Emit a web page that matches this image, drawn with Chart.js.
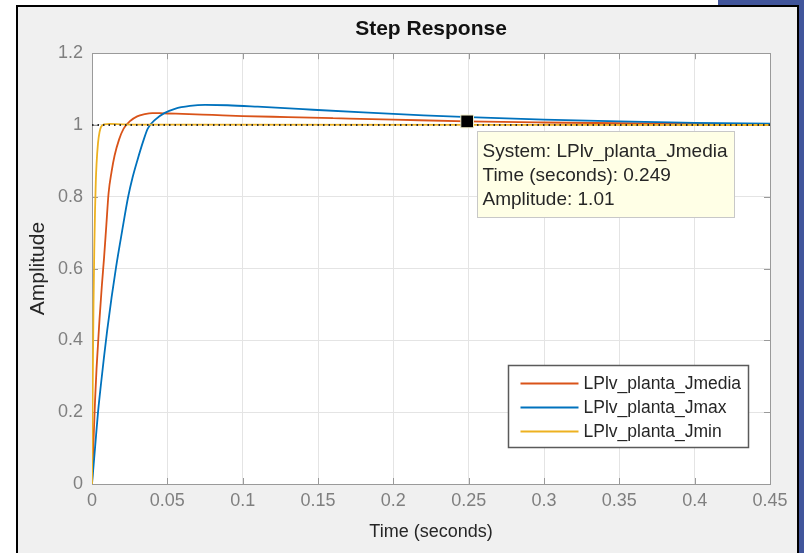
<!DOCTYPE html>
<html>
<head>
<meta charset="utf-8">
<script src="https://cdn.jsdelivr.net/npm/chart.js@4.4.1/dist/chart.umd.min.js"></script>
<style>
  html, body { margin: 0; padding: 0; background: #ffffff; }
  canvas { display: block; }
</style>
</head>
<body>
<canvas id="c" width="804" height="553"></canvas>
<script>
// ---------- data ----------
const seriesNames = ['LPlv_planta_Jmedia', 'LPlv_planta_Jmax', 'LPlv_planta_Jmin'];
const seriesColors = ['#D95319', '#0072BD', '#EDB120'];

const tMedia = [0, 0.001, 0.002, 0.003, 0.004, 0.005, 0.0065, 0.008, 0.0095, 0.011, 0.013, 0.015, 0.018, 0.021, 0.025, 0.03, 0.035, 0.04, 0.045, 0.05, 0.06, 0.08, 0.1, 0.13, 0.16, 0.2, 0.249, 0.3, 0.35, 0.4, 0.45];
const yMedia = [0, 0.12, 0.23, 0.32, 0.39, 0.46, 0.55, 0.63, 0.72, 0.81, 0.87, 0.915, 0.96, 0.99, 1.01, 1.024, 1.03, 1.033, 1.033, 1.032, 1.031, 1.028, 1.025, 1.022, 1.019, 1.015, 1.01, 1.007, 1.005, 1.003, 1.002];

const tMax = [0, 0.002, 0.004, 0.006, 0.008, 0.01, 0.013, 0.016, 0.02, 0.024, 0.027, 0.03, 0.034, 0.037, 0.042, 0.048, 0.055, 0.065, 0.075, 0.09, 0.11, 0.14, 0.18, 0.22, 0.25, 0.3, 0.35, 0.4, 0.45];
const yMax = [0, 0.1, 0.2, 0.28, 0.355, 0.425, 0.52, 0.605, 0.705, 0.8, 0.855, 0.9, 0.955, 0.99, 1.015, 1.033, 1.045, 1.053, 1.056, 1.055, 1.051, 1.044, 1.035, 1.027, 1.022, 1.015, 1.01, 1.006, 1.004];

const tMin = [0, 0.0005, 0.001, 0.0015, 0.002, 0.0025, 0.003, 0.004, 0.005, 0.006, 0.008, 0.012, 0.02, 0.05, 0.45];
const yMin = [0, 0.28, 0.5, 0.65, 0.76, 0.84, 0.89, 0.95, 0.98, 0.995, 1.002, 1.003, 1.002, 1.001, 1.0];

const steadyT = [0, 0.45];
const steadyY = [1, 1];

const tipT = [0.249];
const tipY = [1.01];

const xTicks = [0, 0.05, 0.1, 0.15, 0.2, 0.25, 0.3, 0.35, 0.4, 0.45];
const xTickLabels = ['0', '0.05', '0.1', '0.15', '0.2', '0.25', '0.3', '0.35', '0.4', '0.45'];
const yTicks = [0, 0.2, 0.4, 0.6, 0.8, 1, 1.2];
const yTickLabels = ['0', '0.2', '0.4', '0.6', '0.8', '1', '1.2'];

const titleText = 'Step Response';
const xTitle = 'Time (seconds)';
const yTitle = 'Amplitude';

// ---------- helpers ----------
const pts = (ts, ys) => ts.map((t, i) => ({ x: t, y: ys[i] }));
const FONT = '"Liberation Sans", Arial, Helvetica, sans-serif';

const frame = {
  id: 'frame',
  beforeDraw(chart) {
    const ctx = chart.ctx, W = chart.width, H = chart.height;
    ctx.save();
    ctx.fillStyle = '#ffffff';
    ctx.fillRect(0, 0, W, H);
    ctx.fillStyle = '#41559b';
    ctx.fillRect(718, 0, W - 718, 7);
    ctx.fillRect(798, 0, W - 798, H);
    ctx.fillStyle = '#f0f0f0';
    ctx.fillRect(17, 6, 781, H - 6);
    ctx.fillStyle = '#000000';
    ctx.fillRect(16, 5, 783, 2);
    ctx.fillRect(16, 5, 2, H - 5);
    ctx.fillRect(797, 5, 2, H - 5);
    const a = chart.chartArea;
    ctx.fillStyle = '#ffffff';
    ctx.fillRect(a.left, a.top, a.right - a.left, a.bottom - a.top);
    ctx.restore();
  },
  beforeDatasetsDraw(chart) {
    const ctx = chart.ctx, a = chart.chartArea;
    const xs = chart.scales.x, ys = chart.scales.y;
    ctx.save();
    ctx.strokeStyle = '#9a9a9a';
    ctx.lineWidth = 1;
    ctx.beginPath();
    xTicks.forEach(v => {
      const px = Math.round(xs.getPixelForValue(v)) + 0.5;
      ctx.moveTo(px, a.bottom); ctx.lineTo(px, a.bottom - 6);
      ctx.moveTo(px, a.top); ctx.lineTo(px, a.top + 6);
    });
    yTicks.forEach(v => {
      const py = Math.round(ys.getPixelForValue(v)) + 0.5;
      ctx.moveTo(a.left, py); ctx.lineTo(a.left + 6, py);
      ctx.moveTo(a.right, py); ctx.lineTo(a.right - 6, py);
    });
    ctx.stroke();
    ctx.strokeRect(Math.round(a.left) + 0.5, Math.round(a.top) + 0.5, Math.round(a.right - a.left), Math.round(a.bottom - a.top));
    ctx.restore();
  },
  afterDraw(chart) {
    const ctx = chart.ctx, a = chart.chartArea;
    const xs = chart.scales.x, ys = chart.scales.y;
    ctx.save();
    // data tip box
    const mx = xs.getPixelForValue(tipT[0]), my = ys.getPixelForValue(tipY[0]);
    const bx = Math.round(mx + 10) + 0.5, by = Math.round(my + 10) + 0.5;
    const lines = ['System: ' + seriesNames[0], 'Time (seconds): ' + tipT[0], 'Amplitude: ' + tipY[0]];
    ctx.font = '19px ' + FONT;
    const bw = Math.max(...lines.map(l => ctx.measureText(l).width)) + 12;
    const bh = 86;
    ctx.fillStyle = '#ffffe6';
    ctx.fillRect(bx, by, bw, bh);
    ctx.strokeStyle = '#c8c8c8';
    ctx.lineWidth = 1;
    ctx.strokeRect(bx, by, bw, bh);
    ctx.fillStyle = '#262626';
    ctx.textBaseline = 'middle';
    ctx.textAlign = 'left';
    lines.forEach((l, i) => ctx.fillText(l, bx + 5, by + 20 + i * 24));

    // legend
    const lw = 240, lh = 82;
    const lx = Math.round(a.right - 22 - lw) + 0.5, ly = Math.round(a.bottom - 37 - lh) + 0.5;
    ctx.fillStyle = '#ffffff';
    ctx.fillRect(lx, ly, lw, lh);
    ctx.strokeStyle = '#5a5a5a';
    ctx.lineWidth = 1.5;
    ctx.strokeRect(lx, ly, lw, lh);
    ctx.font = '17.5px ' + FONT;
    seriesNames.forEach((n, i) => {
      const ry = ly + 18 + i * 24;
      ctx.strokeStyle = seriesColors[i];
      ctx.lineWidth = 2;
      ctx.beginPath();
      ctx.moveTo(lx + 12, ry); ctx.lineTo(lx + 70, ry);
      ctx.stroke();
      ctx.fillStyle = '#262626';
      ctx.fillText(n, lx + 75, ry + 1);
    });
    ctx.restore();
  }
};

const lineDs = (label, ts, ys, color, order) => ({
  label, data: pts(ts, ys), borderColor: color, backgroundColor: color,
  borderWidth: 1.8, pointRadius: 0, pointHoverRadius: 0, fill: false,
  cubicInterpolationMode: 'monotone', order
});

new Chart(document.getElementById('c'), {
  type: 'line',
  data: {
    datasets: [
      lineDs(seriesNames[0], tMedia, yMedia, seriesColors[0], 5),
      lineDs(seriesNames[1], tMax, yMax, seriesColors[1], 4),
      lineDs(seriesNames[2], tMin, yMin, seriesColors[2], 3),
      { label: 'steady', data: pts(steadyT, steadyY), borderColor: '#2a2a2a', borderWidth: 2,
        borderDash: [1.5, 4], pointRadius: 0, fill: false, order: 2 },
      { label: 'tip', data: pts(tipT, tipY), showLine: false, pointStyle: 'rect', pointRadius: 9,
        pointBackgroundColor: '#000000', pointBorderColor: '#f3efc8', pointBorderWidth: 1, order: 1 }
    ]
  },
  options: {
    responsive: false,
    animation: false,
    devicePixelRatio: 1,
    layout: { padding: { left: 17, right: 34, top: 0, bottom: 0 } },
    plugins: {
      legend: { display: false },
      tooltip: { enabled: false },
      title: {
        display: true, text: titleText, fullSize: false, color: '#111111',
        font: { family: FONT, size: 21, weight: 'bold' },
        padding: { top: 17, bottom: 11 }
      }
    },
    scales: {
      x: {
        type: 'linear', min: 0, max: 0.45,
        afterFit: s => { s.height = 69; },
        afterBuildTicks: s => { s.ticks = xTicks.map(v => ({ value: v })); },
        ticks: { callback: (v, i) => xTickLabels[i], color: '#7f7f7f', padding: 6, maxRotation: 0,
                 font: { family: FONT, size: 18 } },
        grid: { color: '#e4e4e4', lineWidth: 1, drawTicks: false },
        border: { display: false },
        title: { display: true, text: xTitle, color: '#262626', font: { family: FONT, size: 18 },
                 padding: { top: 0, bottom: 10 } }
      },
      y: {
        type: 'linear', min: 0, max: 1.2,
        afterFit: s => { s.width = 75; },
        afterBuildTicks: s => { s.ticks = yTicks.map(v => ({ value: v })); },
        ticks: { callback: (v, i) => yTickLabels[i], color: '#7f7f7f', padding: 9,
                 font: { family: FONT, size: 18 } },
        grid: { color: '#e4e4e4', lineWidth: 1, drawTicks: false },
        border: { display: false },
        title: { display: true, text: yTitle, color: '#262626', font: { family: FONT, size: 21 },
                 padding: { top: 9, bottom: 0 } }
      }
    }
  },
  plugins: [frame]
});
</script>
</body>
</html>
